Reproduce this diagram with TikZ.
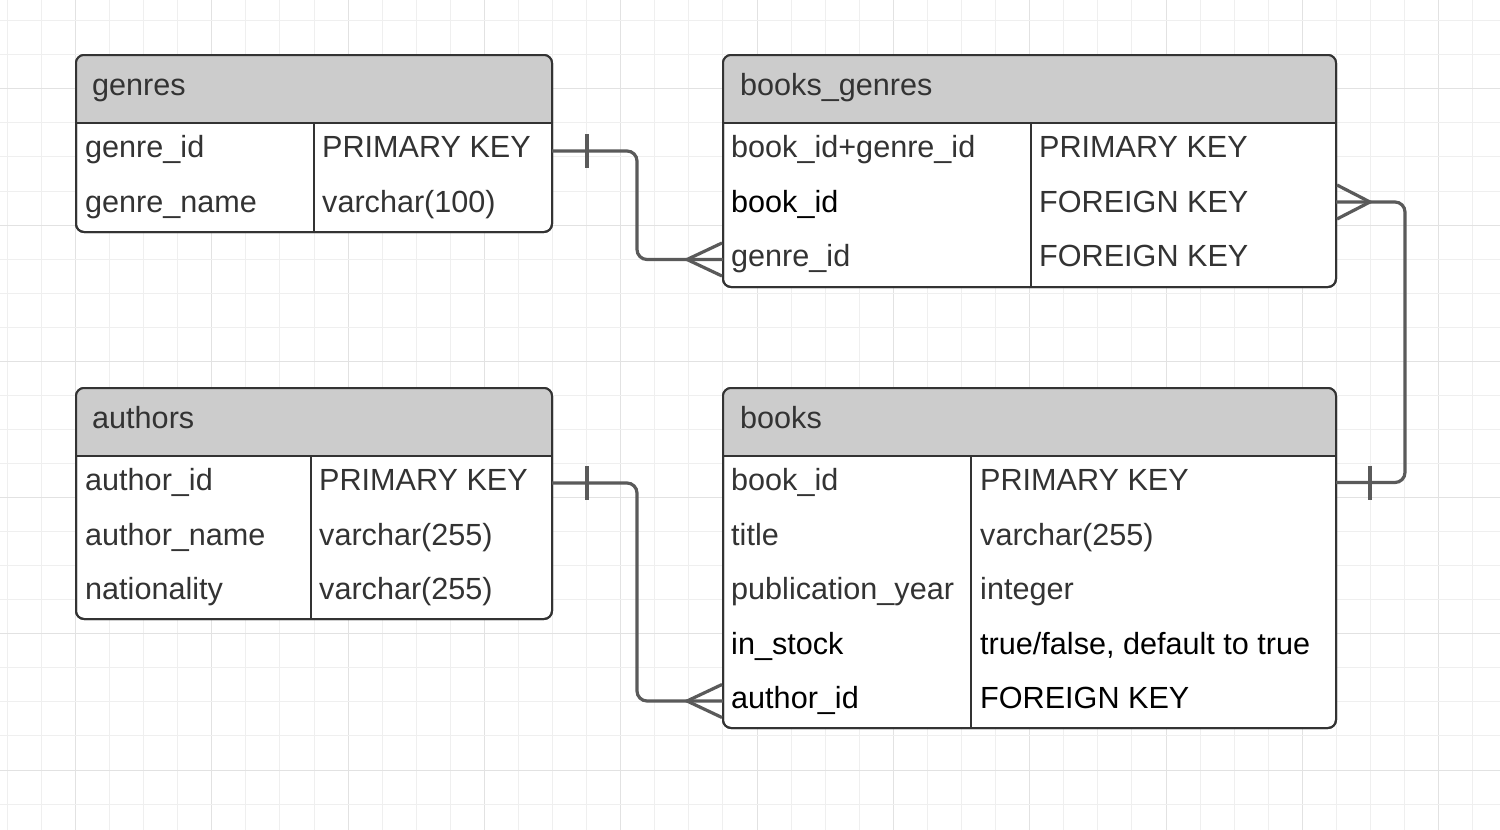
\documentclass[tikz,border=0pt]{standalone}
\usepackage{fontspec}
\setmainfont{Liberation Sans}
\definecolor{txt}{HTML}{333333}
\definecolor{hdr}{HTML}{CCCCCC}
\definecolor{gridmin}{HTML}{EFEFEF}
\definecolor{gridmaj}{HTML}{E2E2E2}
\definecolor{conncol}{HTML}{5A5A5A}
\tikzset{
  tframe/.style={draw=txt, line width=2pt, rounded corners=8pt, fill=white, inner sep=0pt, outer sep=0pt},
  tborder/.style={draw=txt, line width=2pt, rounded corners=8pt},
  hdrfill/.style={fill=hdr},
  sepline/.style={draw=txt, line width=1.4pt},
  cell/.style={anchor=base west, inner sep=0pt, text=txt, font=\fontsize{30.6}{36}\selectfont},
  cellk/.style={cell, text=black},
  conn/.style={draw=conncol, line width=3.2pt},
  connr/.style={conn, rounded corners=10pt},
  gmin/.style={draw=gridmin, line width=1pt},
  gmaj/.style={draw=gridmaj, line width=1pt},
}
\begin{document}
\begin{tikzpicture}[x=1pt,y=-1pt]
\useasboundingbox (0,0) rectangle (1500,830);
\fill[white] (0,0) rectangle (1500,830);
% grid
\foreach \i in {0,...,43}{
  \pgfmathsetmacro\xx{7.3+34.08*\i}
  \pgfmathtruncatemacro\m{mod(\i,4)}
  \ifnum\m=2 \draw[gmaj] (\xx,0) -- (\xx,830); \else \draw[gmin] (\xx,0) -- (\xx,830); \fi
}
\foreach \j in {0,...,23}{
  \pgfmathsetmacro\yy{20.7+34.06*\j}
  \pgfmathtruncatemacro\m{mod(\j,4)}
  \ifnum\m=2 \draw[gmaj] (0,\yy) -- (1500,\yy); \else \draw[gmin] (0,\yy) -- (1500,\yy); \fi
}

% ---------- genres ----------
\node[tframe, minimum width=476pt, minimum height=177pt] (genres) at (314,143.5) {};
\begin{scope}
  \clip[rounded corners=8pt] (76,55) rectangle (552,232);
  \fill[hdrfill] (76,55) rectangle (552,123);
\end{scope}
\draw[sepline] (76,123) -- (552,123);
\draw[sepline] (314,123) -- (314,232);
\draw[tborder] (genres.north west) rectangle (genres.south east);
\node[cell] (genresh) at (92,95.5) {genres};
\node[cell] (g1a) at (85,157.5) {genre\_id};
\node[cell] (g1b) at (322,157.5) {PRIMARY KEY};
\node[cell] (g2a) at (85,212) {genre\_name};
\node[cell] (g2b) at (322,212) {varchar(100)};
\coordinate (genresR1) at (552,151);

% ---------- books_genres ----------
\node[tframe, minimum width=613pt, minimum height=232pt] (bg) at (1029.5,171) {};
\begin{scope}
  \clip[rounded corners=8pt] (723,55) rectangle (1336,287);
  \fill[hdrfill] (723,55) rectangle (1336,123);
\end{scope}
\draw[sepline] (723,123) -- (1336,123);
\draw[sepline] (1031,123) -- (1031,287);
\draw[tborder] (bg.north west) rectangle (bg.south east);
\node[cell] (bgh) at (740,95.5) {books\_genres};
\node[cell] (bg1a) at (731,157.5) {book\_id+genre\_id};
\node[cell] (bg1b) at (1039,157.5) {PRIMARY KEY};
\node[cellk] (bg2a) at (731,212) {book\_id};
\node[cell] (bg2b) at (1039,212) {FOREIGN KEY};
\node[cell] (bg3a) at (731,266.5) {genre\_id};
\node[cell] (bg3b) at (1039,266.5) {FOREIGN KEY};
\coordinate (bgL3) at (723,259.5);
\coordinate (bgR2) at (1336,202);

% ---------- authors ----------
\node[tframe, minimum width=476pt, minimum height=231pt] (authors) at (314,503.5) {};
\begin{scope}
  \clip[rounded corners=8pt] (76,388) rectangle (552,619);
  \fill[hdrfill] (76,388) rectangle (552,456);
\end{scope}
\draw[sepline] (76,456) -- (552,456);
\draw[sepline] (311,456) -- (311,619);
\draw[tborder] (authors.north west) rectangle (authors.south east);
\node[cell] (ah) at (92,428.5) {authors};
\node[cell] (a1a) at (85,490.5) {author\_id};
\node[cell] (a1b) at (319,490.5) {PRIMARY KEY};
\node[cell] (a2a) at (85,545) {author\_name};
\node[cell] (a2b) at (319,545) {varchar(255)};
\node[cell] (a3a) at (85,599.5) {nationality};
\node[cell] (a3b) at (319,599.5) {varchar(255)};
\coordinate (authorsR1) at (552,483);

% ---------- books ----------
\node[tframe, minimum width=613pt, minimum height=340pt] (books) at (1029.5,558) {};
\begin{scope}
  \clip[rounded corners=8pt] (723,388) rectangle (1336,728);
  \fill[hdrfill] (723,388) rectangle (1336,456);
\end{scope}
\draw[sepline] (723,456) -- (1336,456);
\draw[sepline] (971,456) -- (971,728);
\draw[tborder] (books.north west) rectangle (books.south east);
\node[cell] (bh) at (740,428.5) {books};
\node[cell] (b1a) at (731,490.5) {book\_id};
\node[cell] (b1b) at (980,490.5) {PRIMARY KEY};
\node[cell] (b2a) at (731,545) {title};
\node[cell] (b2b) at (980,545) {varchar(255)};
\node[cell] (b3a) at (731,599.5) {publication\_year};
\node[cell] (b3b) at (980,599.5) {integer};
\node[cellk] (b4a) at (731,654) {in\_stock};
\node[cellk] (b4b) at (980,654) {true/false, default to true};
\node[cellk] (b5a) at (731,708.5) {author\_id};
\node[cellk] (b5b) at (980,708.5) {FOREIGN KEY};
\coordinate (booksR1) at (1336,482.5);
\coordinate (booksL5) at (723,701);

% ---------- connectors ----------
% genres -> books_genres
\draw[connr] (genresR1) -- (637,151) -- (637,259.5) -- (bgL3);
\draw[conn] (587,134) -- (587,168);
\draw[conn] (722,243) -- (687,259.5) -- (722,276);
% books -> books_genres
\draw[connr] (bgR2) -- (1405,202) -- (1405,482.5) -- (booksR1);
\draw[conn] (1370,465.5) -- (1370,499.5);
\draw[conn] (1337,185) -- (1370,202) -- (1337,219);
% authors -> books
\draw[connr] (authorsR1) -- (637,483) -- (637,701) -- (booksL5);
\draw[conn] (587,466) -- (587,500);
\draw[conn] (722,684.5) -- (687,701) -- (722,717.5);
\end{tikzpicture}
\end{document}
